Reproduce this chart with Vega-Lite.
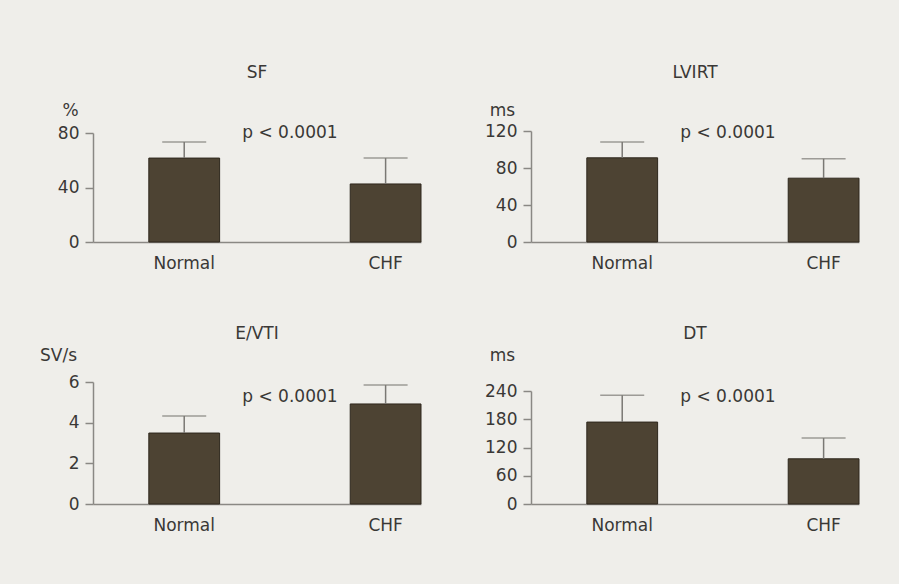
{
  "$schema": "https://vega.github.io/schema/vega-lite/v6.json",
  "background": "#efeeea",
  "padding": {"left": 39, "top": 64, "right": 39, "bottom": 51},
  "columns": 2,
  "spacing": {"column": 62, "row": 54},
  "config": {
    "view": {"stroke": null},
    "font": "DejaVu Sans",
    "title": {"fontSize": 17, "fontWeight": "normal", "color": "#3a3836", "anchor": "middle", "frame": "group"},
    "axis": {"labelFont": "DejaVu Sans", "labelFontSize": 17, "labelColor": "#3a3836", "titleFont": "DejaVu Sans", "titleFontSize": 17, "titleFontWeight": "normal", "titleColor": "#3a3836", "domainColor": "#8a8884", "domainWidth": 1.5, "tickColor": "#8a8884", "tickWidth": 1.5, "grid": false, "labelOverlap": false},
    "axisX": {"ticks": false, "labelAngle": 0, "labelPadding": 13, "title": null},
    "axisY": {"tickSize": 8, "labelPadding": 6, "titleAngle": 0, "titleAlign": "center", "titleBaseline": "middle", "labelOverlap": false, "labelBound": false, "tickCount": 10},
    "bar": {"fill": "#4d4333", "stroke": "#2e271d", "strokeWidth": 1},
    "rule": {"color": "#7a7874", "strokeWidth": 1.5},
    "tick": {"color": "#7a7874", "thickness": 1.5},
    "text": {"font": "DejaVu Sans", "fontSize": 17, "color": "#3a3836"}
  },
  "concat": [
    {
      "width": 328, "height": 122,
      "title": {"text": "SF", "offset": 19},
      "data": {"values": [{"group": "Normal", "mean": 61.6, "upper": 73.4}, {"group": "CHF", "mean": 42.6, "upper": 61.6}]},
      "encoding": {"x": {"field": "group", "type": "nominal", "sort": ["Normal", "CHF"], "scale": {"paddingInner": 0.6485, "paddingOuter": 0.1386, "align": 1}}},
      "layer": [
        {"mark": "bar", "encoding": {"y": {"field": "mean", "type": "quantitative", "title": "%", "scale": {"domain": [0, 80], "range": [122, 13], "nice": false}, "axis": {"values": [0, 40, 80], "format": "d", "titleX": -23, "titleY": -10}}}},
        {"mark": "rule", "encoding": {"y": {"field": "mean", "type": "quantitative", "title": "%"}, "y2": {"field": "upper"}}},
        {"mark": {"type": "tick", "size": 44}, "encoding": {"y": {"field": "upper", "type": "quantitative", "title": "%"}}},
        {"data": {"values": [{"label": "p < 0.0001"}]}, "mark": {"type": "text", "align": "left", "baseline": "middle"}, "encoding": {"x": {"datum": "Normal", "bandPosition": 1.32}, "y": {"datum": 80, "type": "quantitative", "title": "%"}, "text": {"field": "label"}}}
      ]
    },
    {
      "width": 328, "height": 122,
      "title": {"text": "LVIRT", "offset": 19},
      "data": {"values": [{"group": "Normal", "mean": 91, "upper": 108}, {"group": "CHF", "mean": 69, "upper": 90}]},
      "encoding": {"x": {"field": "group", "type": "nominal", "sort": ["Normal", "CHF"], "scale": {"paddingInner": 0.6485, "paddingOuter": 0.1386, "align": 1}}},
      "layer": [
        {"mark": "bar", "encoding": {"y": {"field": "mean", "type": "quantitative", "title": "ms", "scale": {"domain": [0, 120], "range": [122, 11], "nice": false}, "axis": {"values": [0, 40, 80, 120], "format": "d", "titleX": -29, "titleY": -10}}}},
        {"mark": "rule", "encoding": {"y": {"field": "mean", "type": "quantitative", "title": "ms"}, "y2": {"field": "upper"}}},
        {"mark": {"type": "tick", "size": 44}, "encoding": {"y": {"field": "upper", "type": "quantitative", "title": "ms"}}},
        {"data": {"values": [{"label": "p < 0.0001"}]}, "mark": {"type": "text", "align": "left", "baseline": "middle"}, "encoding": {"x": {"datum": "Normal", "bandPosition": 1.32}, "y": {"datum": 118, "type": "quantitative", "title": "ms"}, "text": {"field": "label"}}}
      ]
    },
    {
      "width": 328, "height": 122,
      "title": {"text": "E/VTI", "offset": 3},
      "data": {"values": [{"group": "Normal", "mean": 3.49, "upper": 4.33}, {"group": "CHF", "mean": 4.92, "upper": 5.85}]},
      "encoding": {"x": {"field": "group", "type": "nominal", "sort": ["Normal", "CHF"], "scale": {"paddingInner": 0.6485, "paddingOuter": 0.1386, "align": 1}}},
      "layer": [
        {"mark": "bar", "encoding": {"y": {"field": "mean", "type": "quantitative", "title": "SV/s", "scale": {"domain": [0, 6], "range": [122, 0], "nice": false}, "axis": {"values": [0, 2, 4, 6], "format": "d", "titleX": -35, "titleY": -27}}}},
        {"mark": "rule", "encoding": {"y": {"field": "mean", "type": "quantitative", "title": "SV/s"}, "y2": {"field": "upper"}}},
        {"mark": {"type": "tick", "size": 44}, "encoding": {"y": {"field": "upper", "type": "quantitative", "title": "SV/s"}}},
        {"data": {"values": [{"label": "p < 0.0001"}]}, "mark": {"type": "text", "align": "left", "baseline": "middle"}, "encoding": {"x": {"datum": "Normal", "bandPosition": 1.32}, "y": {"datum": 5.26, "type": "quantitative", "title": "SV/s"}, "text": {"field": "label"}}}
      ]
    },
    {
      "width": 328, "height": 122,
      "title": {"text": "DT", "offset": 3},
      "data": {"values": [{"group": "Normal", "mean": 174, "upper": 231}, {"group": "CHF", "mean": 96, "upper": 140}]},
      "encoding": {"x": {"field": "group", "type": "nominal", "sort": ["Normal", "CHF"], "scale": {"paddingInner": 0.6485, "paddingOuter": 0.1386, "align": 1}}},
      "layer": [
        {"mark": "bar", "encoding": {"y": {"field": "mean", "type": "quantitative", "title": "ms", "scale": {"domain": [0, 240], "range": [122, 9], "nice": false}, "axis": {"values": [0, 60, 120, 180, 240], "format": "d", "titleX": -29, "titleY": -27, "tickCount": 10}}}},
        {"mark": "rule", "encoding": {"y": {"field": "mean", "type": "quantitative", "title": "ms"}, "y2": {"field": "upper"}}},
        {"mark": {"type": "tick", "size": 44}, "encoding": {"y": {"field": "upper", "type": "quantitative", "title": "ms"}}},
        {"data": {"values": [{"label": "p < 0.0001"}]}, "mark": {"type": "text", "align": "left", "baseline": "middle"}, "encoding": {"x": {"datum": "Normal", "bandPosition": 1.32}, "y": {"datum": 227, "type": "quantitative", "title": "ms"}, "text": {"field": "label"}}}
      ]
    }
  ]
}
